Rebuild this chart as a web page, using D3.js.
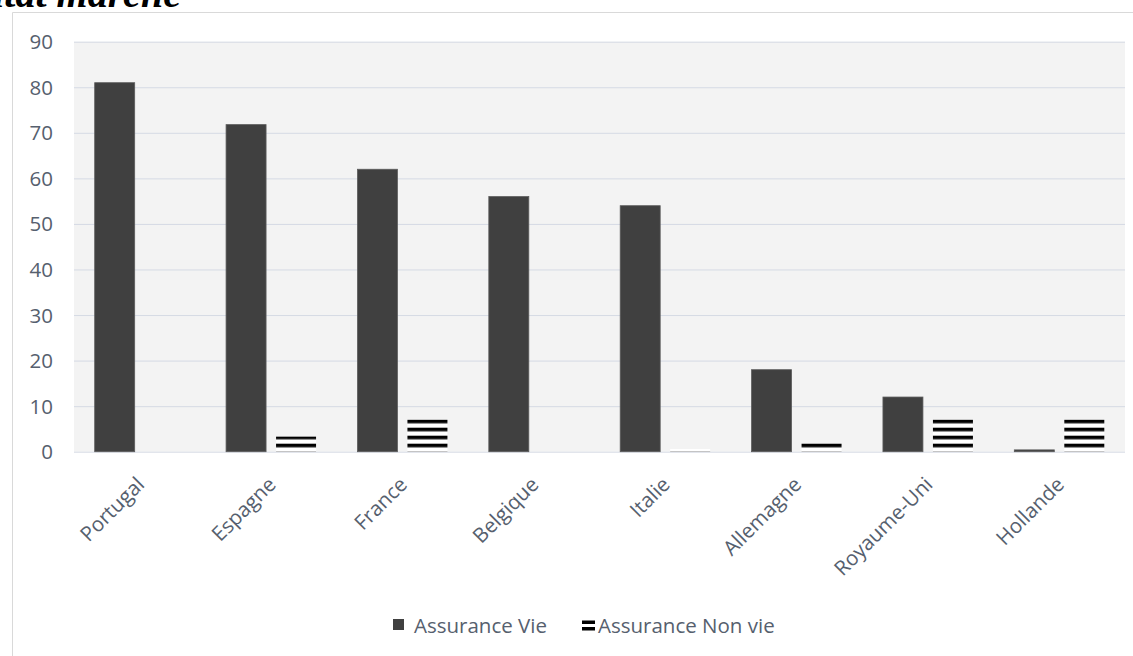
<!DOCTYPE html>
<html>
<head>
<meta charset="utf-8">
<script src="https://cdn.jsdelivr.net/npm/d3@7"></script>
<style>
  html, body { margin: 0; padding: 0; background: #ffffff; }
  svg { display: block; }
  text { font-family: "Open Sans", "Noto Sans", sans-serif; }
</style>
</head>
<body>
<script>
// Life / non-life insurance share by country
const pays = ["Portugal", "Espagne", "France", "Belgique", "Italie", "Allemagne", "Royaume-Uni", "Hollande"];
const assuranceVie = [81, 71.8, 62, 56, 54, 18, 12, 0.4];
const assuranceNonVie = [0, 3.3, 7.1, 0, 0.6, 1.9, 7.1, 7.1];
const yTicks = [0, 10, 20, 30, 40, 50, 60, 70, 80, 90];
const seriesNames = ["Assurance Vie", "Assurance Non vie"];

const W = 1133, H = 656;
const plot = { left: 74, right: 1125, top: 41.7, bottom: 451.7 };
const FONT = "20.5px";

const svg = d3.select("body").append("svg")
  .attr("width", W).attr("height", H);

// Horizontal stripe pattern for the non-life series
const defs = svg.append("defs");
const pat = defs.append("pattern")
  .attr("id", "rayures")
  .attr("patternUnits", "userSpaceOnUse")
  .attr("x", 0).attr("y", 3.7)
  .attr("width", 8).attr("height", 8);
pat.append("rect").attr("width", 8).attr("height", 8).attr("fill", "#ffffff");
pat.append("rect").attr("y", 0).attr("width", 8).attr("height", 3.6).attr("fill", "#000000");

// Heading, partly outside the page top
svg.append("text")
  .attr("x", 181).attr("y", 7)
  .attr("text-anchor", "end")
  .style("font-family", "'Liberation Serif', serif")
  .style("font-style", "italic")
  .style("font-weight", "bold")
  .style("font-size", "40px")
  .attr("fill", "#000")
  .text("Assurance vie et non vie : résultat marché");

// Chart frame
svg.append("path")
  .attr("d", `M12.5,${H} V12.5 H${W}`)
  .attr("fill", "none")
  .attr("stroke", "#d9d9d9")
  .attr("stroke-width", 1);

// Scales
const x0 = d3.scaleBand()
  .domain(pays)
  .range([plot.left, plot.right])
  .paddingInner(0).paddingOuter(0);

const x1 = d3.scaleBand()
  .domain(seriesNames)
  .range([0, x0.bandwidth()])
  .paddingInner(0.2)
  .paddingOuter(0.414);

const y = d3.scaleLinear()
  .domain([0, 90])
  .range([plot.bottom, plot.top]);

// Plot area background
svg.append("rect")
  .attr("x", plot.left).attr("y", plot.top)
  .attr("width", plot.right - plot.left)
  .attr("height", plot.bottom - plot.top)
  .attr("fill", "#f3f3f3");

// Gridlines
const grid = svg.append("g")
  .attr("transform", `translate(${plot.left},0)`)
  .call(d3.axisLeft(y).tickValues(yTicks).tickSize(-(plot.right - plot.left)).tickFormat(""));
grid.select(".domain").remove();
grid.selectAll(".tick line").attr("stroke", "#d5dae4").attr("stroke-width", 1);

// Y axis labels
const yAxis = svg.append("g")
  .attr("transform", `translate(${plot.left},0)`)
  .call(d3.axisLeft(y).tickValues(yTicks).tickSize(0).tickPadding(21));
yAxis.select(".domain").remove();
yAxis.selectAll("text")
  .attr("fill", "#56606e")
  .style("font-size", FONT)
  .attr("dy", "0.34em");

// Bars
const rows = pays.map((p, i) => ({ pays: p, vie: assuranceVie[i], nonVie: assuranceNonVie[i] }));

svg.append("g").selectAll("rect")
  .data(rows)
  .join("rect")
  .attr("x", d => x0(d.pays) + x1("Assurance Vie"))
  .attr("y", d => y(d.vie))
  .attr("width", x1.bandwidth())
  .attr("height", d => y(0) - y(d.vie))
  .attr("fill", "#404040")
  .attr("stroke", "#5c5c5c")
  .attr("stroke-width", 0.8);

svg.append("g").selectAll("rect")
  .data(rows.filter(d => d.nonVie > 0))
  .join("rect")
  .attr("x", d => x0(d.pays) + x1("Assurance Non vie"))
  .attr("y", d => y(d.nonVie))
  .attr("width", x1.bandwidth())
  .attr("height", d => y(0) - y(d.nonVie))
  .attr("fill", "url(#rayures)");

// X axis labels, rotated
const xAxis = svg.append("g")
  .attr("transform", `translate(0,${plot.bottom})`)
  .call(d3.axisBottom(x0).tickSize(0).tickPadding(0));
xAxis.select(".domain").remove();
xAxis.selectAll("text")
  .attr("fill", "#56606e")
  .style("font-size", FONT)
  .attr("text-anchor", "end")
  .attr("transform", "translate(1,29) rotate(-45)")
  .attr("dy", "0.35em");

// Legend
const leg = svg.append("g");
leg.append("rect")
  .attr("x", 393).attr("y", 619).attr("width", 11).attr("height", 11)
  .attr("fill", "#404040");
leg.append("text")
  .attr("x", 414).attr("y", 633)
  .attr("fill", "#56606e").style("font-size", FONT)
  .text(seriesNames[0]);
leg.append("rect")
  .attr("x", 582).attr("y", 620.5).attr("width", 13).attr("height", 3.5).attr("fill", "#000");
leg.append("rect")
  .attr("x", 582).attr("y", 627).attr("width", 13).attr("height", 3.5).attr("fill", "#000");
leg.append("text")
  .attr("x", 598).attr("y", 633)
  .attr("fill", "#56606e").style("font-size", FONT)
  .text(seriesNames[1]);
</script>
</body>
</html>
